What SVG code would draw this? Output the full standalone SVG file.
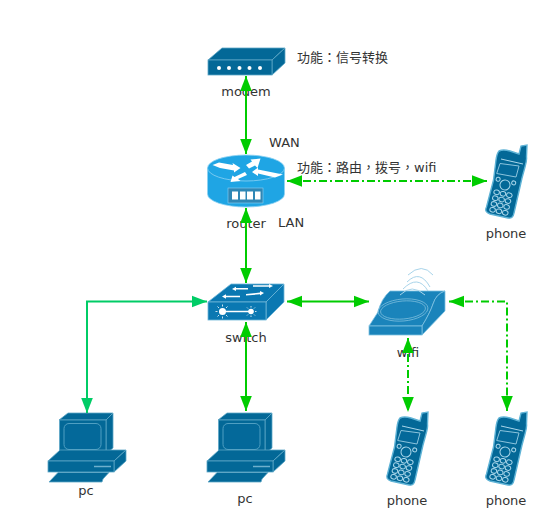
<svg xmlns="http://www.w3.org/2000/svg" width="560" height="517" viewBox="0 0 560 517">
<style>
text{font-family:"DejaVu Sans","Noto Sans CJK TC",sans-serif;font-size:13px;fill:#333}
.m{text-anchor:middle}
.f{fill:#036897;stroke:#5ea7c7;stroke-width:.8}
.s{fill:#0a78b2;stroke:#6fb6d8;stroke-width:.8}
.w{fill:#1a84bb;stroke:#7fc2e2;stroke-width:.8}
.r{fill:#1fa5e4;stroke:#8ed2f3;stroke-width:.8}
.c{fill:none;stroke:#00cc00;stroke-width:2}
.t{stroke:#00cc66}
.d{stroke-dasharray:8 3 2 3}
.k{fill:none;stroke:#a9d6ea;stroke-width:1}
.v{fill:none;stroke:#6fb6d8;stroke-width:.9}
.u{fill:none;stroke:#a8d4ea;stroke-width:1}
.y{stroke:#fff;stroke-width:.8}
</style>
<defs>
<marker id="a" markerUnits="userSpaceOnUse" markerWidth="16" markerHeight="13" refX="15" refY="6.500" orient="auto-start-reverse"><path d="M0 .7L15 6.500L0 12.300z" fill="#00cc00"/></marker>
<marker id="b" markerUnits="userSpaceOnUse" markerWidth="16" markerHeight="13" refX="15" refY="6.500" orient="auto-start-reverse"><path d="M0 .7L15 6.500L0 12.300z" fill="#00cc66"/></marker>
<g id="pcg">
<path class="f" d="M59 420L68 413H113L106 420z"/>
<path class="f" d="M106 420L113 413V448L106 454z"/>
<rect class="f" x="59.500" y="420" width="46.500" height="34"/>
<rect x="64" y="423.500" width="37" height="26" rx="5" fill="#04699a" stroke="#4f9fc2"/>
<path class="f" d="M48 461L60 450H126L114 461z"/>
<path class="f" d="M114 461L126 450V461L114 472z"/>
<rect class="f" x="48" y="461" width="66" height="11"/>
<path d="M94 466.500H111" stroke="#6fb0cd" stroke-width="1.500"/>
<path class="f" d="M49 482L58 472.500H109L103 479L102 482z"/>
</g>
<g id="ph">
<path d="M499 151Q503 149 510 151L519 154L521 146L527 145L526.500 157Q527 160 525 167L522 178L514 213Q513 219 508 218L490 214Q484 212 486.500 207L493.500 180L496 160Q497 153 499 151z" fill="#036897" stroke="#5fb3d6" stroke-width="1.400"/>
<path d="M501 159L523 164" stroke="#a9d6ea" stroke-width="1"/>
<path d="M500 163.500L519 166L516 177L496.700 173.500z" fill="#04699a" stroke="#8cc4dd"/>
<g transform="rotate(13 505 185)" class="k">
<circle cx="505" cy="185" r="5"/>
<circle cx="497" cy="181" r="2"/><circle cx="513" cy="181" r="2"/>
<ellipse cx="498.500" cy="194" rx="2.800" ry="2.300"/><ellipse cx="505" cy="194" rx="2.800" ry="2.300"/><ellipse cx="511.500" cy="194" rx="2.800" ry="2.300"/>
<ellipse cx="498.500" cy="200" rx="2.800" ry="2.300"/><ellipse cx="505" cy="200" rx="2.800" ry="2.300"/><ellipse cx="511.500" cy="200" rx="2.800" ry="2.300"/>
<ellipse cx="498.500" cy="206" rx="2.800" ry="2.300"/><ellipse cx="505" cy="206" rx="2.800" ry="2.300"/><ellipse cx="511.500" cy="206" rx="2.800" ry="2.300"/>
<ellipse cx="498.500" cy="212" rx="2.800" ry="2.300"/><ellipse cx="505" cy="212" rx="2.800" ry="2.300"/><ellipse cx="511.500" cy="212" rx="2.800" ry="2.300"/>
</g>
</g>
</defs>
<g id="modem">
<path class="f" d="M208 60L222 48H285L272 60z"/>
<path class="f" d="M272 60L285 48V63L272 75z"/>
<rect class="f" x="208" y="60" width="64" height="15"/>
<g fill="#fff"><circle cx="219" cy="68" r="2"/><circle cx="229" cy="68" r="2"/><circle cx="239.500" cy="68" r="2"/><circle cx="249.500" cy="68" r="2"/><circle cx="260" cy="68" r="2"/></g>
<text class="m" x="246" y="96">modem</text>
</g>
<g id="router">
<path class="r" d="M207.500 168V194A38.500 13 0 0 0 284.500 194V168z"/>
<ellipse class="r" cx="246" cy="168" rx="38.500" ry="13"/>
<g fill="#fff">
<path d="M212.500 165L219 162.500L233 165L232.500 163L240.500 168L234 172.500L234 170.500L220 168z"/>
<path d="M260.500 158.500L250.500 159.500L252 161.500L246 165L249 168.500L255 165.500L257.500 168z"/>
<path d="M252 172L258 167.500L258 169.500L283 174.500L275 177.500L258 173.500L258 176z"/>
<path d="M230.500 182L232.500 175.500L234.500 177L245 172L247 175L238 179L240.500 181z"/>
</g>
<rect x="228" y="188" width="35" height="15" fill="#2f87b5" stroke="#8ed2f3" stroke-width=".6"/>
<g fill="#fff"><rect x="232" y="191.500" width="6" height="8"/><rect x="240" y="191.500" width="5.500" height="8"/><rect x="247" y="191.500" width="6" height="8"/><rect x="255" y="191.500" width="5.500" height="8"/></g>
<text class="m" x="246" y="228">router</text>
</g>
<g id="switch">
<path class="s" d="M208 302L231 284H284L266 302z"/>
<path class="s" d="M266 302L284 284V302L266 320z"/>
<rect class="s" x="208" y="302" width="58" height="18"/>
<g fill="#fff">
<path d="M232 289L236 286.800V288H248V289.500H236V291z"/>
<path d="M273 286L269 284V285.300H253V286.800H269V288z"/>
<path d="M222 296.500L226 294.300V295.700H240V297.200H226V298.700z"/>
<path d="M264 293L260 291V292.600L246 294V295.500L260 294.300V295.500z"/>
</g>
<path d="M222.500 311.500H251" stroke="#fff" stroke-width="1.500"/>
<circle cx="222.500" cy="311.500" r="3.500" fill="#fff"/><circle cx="251" cy="311.500" r="2.800" fill="#fff"/>
<path class="y" d="M222.500 304.500V306.500M222.500 316.500V318.500M215.500 311.500H217.500M217.500 306.500L219 308M227.500 306.500L226 308M217.500 316.500L219 315M227.500 316.500L226 315M251 306V307.500M251 315.500V317M256.500 311.500H255M247 307.500L248 308.500M255 307.500L254 308.500M247 315.500L248 314.500M255 315.500L254 314.500"/>
<text class="m" x="246" y="342">switch</text>
</g>
<g id="wifi">
<path class="w" d="M369 326L378 312Q381 299 390 291H445Q436 294 433 304Q430 313 422 326z"/>
<path class="w" d="M422 326Q430 313 433 304Q436 294 445 291V311L422 335z"/>
<rect class="w" x="369" y="326" width="53" height="9"/>
<ellipse cx="403" cy="310" rx="25" ry="11" class="v" transform="rotate(-5 403 310)"/>
<ellipse cx="403" cy="310" rx="22.500" ry="9" class="v" transform="rotate(-5 403 310)"/>
<path class="u" d="M400 295Q412 283 425 295M403 289Q418 274 428 291M407 282Q420 269 430 287M408 275Q422 262 433 275"/>
<text class="m" x="408" y="357">wifi</text>
</g>
<g id="pc1"><use href="#pcg"/><text class="m" x="86" y="495">pc</text></g>
<g id="pc2"><use href="#pcg" x="159"/><text class="m" x="245" y="503">pc</text></g>
<g id="phone1"><use href="#ph"/><text class="m" x="506" y="238">phone</text></g>
<g id="phone2"><use href="#ph" x="-99" y="267"/><text class="m" x="407" y="505">phone</text></g>
<g id="phone3"><use href="#ph" y="267"/><text class="m" x="506" y="505">phone</text></g>
<text x="269" y="147">WAN</text>
<text x="278" y="227">LAN</text>
<text x="297" y="62">功能：信号转换</text>
<text x="297" y="172">功能：路由，拨号，wifi</text>
<g id="connectors">
<path class="c" d="M246 76V154" marker-start="url(#a)" marker-end="url(#a)"/>
<path class="c" d="M246 208V283" marker-start="url(#a)" marker-end="url(#a)"/>
<path class="c" d="M246 322V411" marker-start="url(#a)" marker-end="url(#a)"/>
<path class="c" d="M287 301.500H369" marker-start="url(#a)" marker-end="url(#a)"/>
<path class="c t" d="M207 301.500H87V413" marker-start="url(#b)" marker-end="url(#b)"/>
<path class="c d" d="M287 181H487" marker-start="url(#a)" marker-end="url(#a)"/>
<path class="c d" d="M408 338V412" marker-start="url(#a)" marker-end="url(#a)"/>
<path class="c d" d="M449 301.500H507V411" marker-start="url(#a)" marker-end="url(#a)"/>
</g>
</svg>
